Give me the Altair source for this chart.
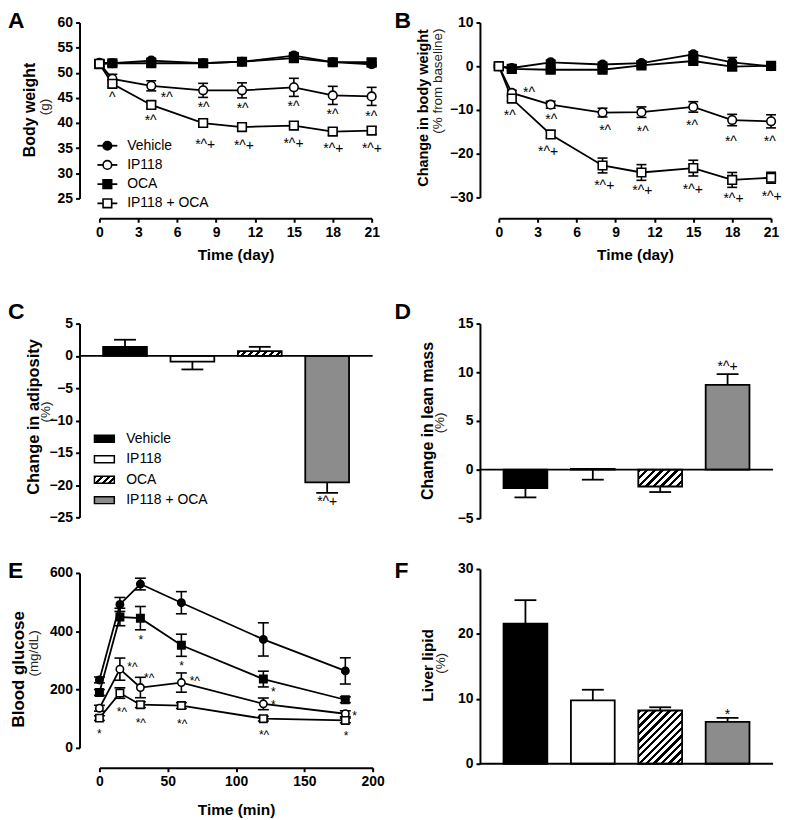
import altair as alt
import pandas as pd

FONT = "Liberation Sans"
GROUPS = ["Vehicle", "IP118", "OCA", "IP118 + OCA"]
MARK_FILL = ["black", "white", "black", "white"]
MARK_SHAPE = ["circle", "circle", "square", "square"]
BAR_FILL = ["black", "white", "white", "#8c8c8c"]

# ---------------- Panel A: body weight (g)
A_DAY = [0, 1, 4, 8, 11, 15, 18, 21]
A_VEHICLE = [52.0, 51.9, 52.4, 51.9, 52.2, 53.4, 52.1, 51.7]
A_VEHICLE_SEM = [0.6, 0.5, 0.5, 0.5, 0.5, 0.6, 0.5, 0.5]
A_IP118 = [51.9, 48.8, 47.4, 46.5, 46.5, 47.1, 45.5, 45.3]
A_IP118_SEM = [0.6, 0.9, 1.0, 1.4, 1.5, 1.8, 1.8, 1.8]
A_OCA = [51.7, 51.9, 51.9, 51.9, 52.2, 52.9, 52.1, 52.1]
A_OCA_SEM = [0.6, 0.5, 0.5, 0.5, 0.6, 0.6, 0.5, 0.6]
A_COMBO = [51.8, 47.8, 43.6, 40.0, 39.2, 39.5, 38.3, 38.5]
A_COMBO_SEM = [0.6, 0.6, 0.7, 0.7, 0.7, 0.7, 0.7, 0.7]
A_ANN_X = [1.0, 5.2, 3.95, 8.04, 11.05, 14.97, 17.98, 20.97, 8.16, 11.15, 14.97, 18.04, 21.02]
A_ANN_Y = [45.8, 45.8, 41.2, 43.8, 43.5, 44.0, 42.3, 42.0, 36.5, 36.2, 36.7, 35.6, 35.6]
A_ANN_TXT = ["^", "*^", "*^", "*^", "*^", "*^", "*^", "*^", "*^+", "*^+", "*^+", "*^+", "*^+"]

# ---------------- Panel B: change in body weight (%)
B_DAY = [0, 1, 4, 8, 11, 15, 18, 21]
B_VEHICLE = [0.0, -0.4, 0.9, 0.4, 0.7, 2.7, 0.9, 0.0]
B_VEHICLE_SEM = [0.3, 0.4, 0.5, 0.5, 0.5, 0.6, 1.1, 0.6]
B_IP118 = [0.0, -6.1, -8.8, -10.6, -10.5, -9.3, -12.3, -12.6]
B_IP118_SEM = [0.3, 0.6, 0.8, 1.0, 1.2, 1.2, 1.3, 1.5]
B_OCA = [0.0, -0.6, -0.8, -0.8, 0.2, 1.2, -0.1, 0.1]
B_OCA_SEM = [0.3, 0.4, 0.5, 0.5, 0.5, 0.6, 0.8, 0.6]
B_COMBO = [0.0, -7.4, -15.6, -22.7, -24.3, -23.3, -26.0, -25.5]
B_COMBO_SEM = [0.3, 0.6, 0.8, 1.7, 1.8, 1.8, 1.7, 1.25]
B_ANN_X = [2.33, 0.84, 4.04, 3.8, 8.2, 11.1, 14.9, 17.9, 20.9, 8.13, 11.07, 14.96, 18.1, 21.05]
B_ANN_Y = [-5.2, -10.4, -11.5, -18.6, -13.9, -14.1, -12.7, -16.4, -16.4, -26.4, -27.7, -27.5, -29.4, -29.0]
B_ANN_TXT = ["*^", "*^", "*^", "*^+", "*^", "*^", "*^", "*^", "*^", "*^+", "*^+", "*^+", "*^+", "*^+"]

# ---------------- Panel C: change in adiposity (%)
C_ADIPOSITY = [1.4, -0.9, 0.75, -19.6]
C_SEM = [1.1, -1.2, 0.65, -1.6]
C_ANN_Y = [-22.0]
C_ANN_TXT = ["*^+"]

# ---------------- Panel D: change in lean mass (%)
D_LEAN = [-1.9, 0.07, -1.73, 8.7]
D_SEM = [-0.95, -1.1, -0.57, 1.1]
D_ANN_Y = [10.9]
D_ANN_TXT = ["*^+"]

# ---------------- Panel E: blood glucose (mg/dL)
E_MIN = [0, 15, 30, 60, 120, 180]
E_VEHICLE = [233, 492, 562, 498, 372, 264]
E_VEHICLE_SEM = [10, 24, 20, 38, 57, 45]
E_IP118 = [136, 270, 207, 224, 151, 117]
E_IP118_SEM = [10, 38, 35, 33, 20, 10]
E_OCA = [190, 449, 445, 352, 236, 165]
E_OCA_SEM = [10, 30, 40, 38, 27, 10]
E_COMBO = [102, 188, 148, 145, 100, 94]
E_COMBO_SEM = [8, 18, 10, 10, 8, 8]
E_ANN_X = [0, 24.2, 16.5, 30.3, 36.4, 30.3, 60.1, 69.8, 60.6, 127.3, 127.3, 120.5, 186.7, 180.6]
E_ANN_Y = [62, 290, 136, 384, 253, 100, 295, 244, 97, 204, 161, 57, 123, 55]
E_ANN_TXT = ["*", "*^", "*^", "*", "*^", "*^", "*", "*^", "*^", "*", "*", "*^", "*", "*"]

# ---------------- Panel F: liver lipid (%)
F_LIPID = [21.6, 9.75, 8.2, 6.45]
F_SEM = [3.6, 1.65, 0.5, 0.6]
F_ANN_Y = [8.06]
F_ANN_TXT = ["*"]

WIDTH = 295
PAD = 0.35
BW = WIDTH / (4 - PAD + 2 * PAD) * (1 - PAD)


def hatch(w, h, period=7.5, frac=0.45):
    s = (w + h) / (w * w + h * h)
    n = max(1, int(round((w + h) / period)))
    stops = []
    for k in range(n):
        a, b, c = k / n, (k + frac) / n, (k + 1) / n
        stops += [{"offset": a, "color": "black"}, {"offset": b, "color": "black"},
                  {"offset": b, "color": "white"}, {"offset": c, "color": "white"}]
    return {"gradient": "linear", "x1": 0, "y1": 0, "x2": s * w, "y2": s * h, "stops": stops}


def axis_kw(values, title=None, tsize=15.5, tpad=9):
    kw = dict(values=values, grid=False, domainColor="black", domainWidth=2,
              tickColor="black", tickWidth=2, tickSize=4, labelFont=FONT,
              labelFontSize=14, labelFontWeight="bold", labelColor="black",
              labelPadding=3, labelFlush=False, labelOverlap=False)
    if title:
        kw.update(title=title, titleFont=FONT, titleFontSize=tsize,
                  titleFontWeight="bold", titleColor="black", titlePadding=tpad)
    else:
        kw.update(title=None)
    return kw


def vtext(txt, x, y, size, bold):
    return alt.Chart(pd.DataFrame({"s": [txt]})).mark_text(
        angle=270, align="center", baseline="middle", font=FONT, fontSize=size,
        fontWeight="bold" if bold else "normal",
        color="black" if bold else "#222222",
    ).encode(x=alt.value(x), y=alt.value(y), text="s:N")


def letter(txt, x, y):
    return alt.Chart(pd.DataFrame({"s": [txt]})).mark_text(
        align="left", baseline="top", font=FONT, fontSize=23, fontWeight="bold", color="black"
    ).encode(x=alt.value(x), y=alt.value(y), text="s:N")


def line_panel(t, means, sems, ann, xdom, xrng, xvals, xtitle, ydom, yrng, yvals, h,
               msize, cap, titles, let, ann_size=14, tpad=9, legend_rng=None):
    rows = []
    for g, m, s in zip(GROUPS, means, sems):
        for ti, mi, si in zip(t, m, s):
            rows.append({"group": g, "t": ti, "m": mi, "lo": mi - si, "hi": mi + si})
    df = pd.DataFrame(rows)
    xs = alt.Scale(domain=xdom, range=xrng, nice=False, zero=False)
    ys = alt.Scale(domain=ydom, range=yrng, nice=False, zero=False)
    XA = alt.Axis(**axis_kw(xvals, xtitle, tpad=tpad))
    YA = alt.Axis(**axis_kw(yvals))

    def X(f):
        return alt.X(f, type="quantitative", scale=xs, axis=XA)

    def Y(f):
        return alt.Y(f, type="quantitative", scale=ys, axis=YA)

    fill = alt.Fill("group:N", scale=alt.Scale(domain=GROUPS, range=MARK_FILL), legend=None)
    shape = alt.Shape("group:N", scale=alt.Scale(domain=GROUPS, range=MARK_SHAPE), legend=None)
    base = alt.Chart(df)
    lines = base.mark_line(color="black", strokeWidth=1.8).encode(
        x=X("t"), y=Y("m"), detail="group:N")
    err = base.mark_rule(color="black", strokeWidth=1.6).encode(x=X("t"), y=Y("lo"), y2="hi:Q")
    cap_lo = base.mark_tick(orient="horizontal", size=cap, thickness=1.6, color="black",
                            opacity=1).encode(x=X("t"), y=Y("lo"))
    cap_hi = base.mark_tick(orient="horizontal", size=cap, thickness=1.6, color="black",
                            opacity=1).encode(x=X("t"), y=Y("hi"))
    pts = base.mark_point(filled=True, opacity=1, stroke="black", strokeWidth=1.6,
                          size=msize).encode(x=X("t"), y=Y("m"), fill=fill, shape=shape)
    adf = pd.DataFrame({"x": ann[0], "y": ann[1], "txt": ann[2]})
    anns = alt.Chart(adf).mark_text(font=FONT, fontSize=ann_size, dy=4, color="black").encode(
        x=X("x"), y=Y("y"), text="txt:N")
    main = alt.layer(lines, err, cap_lo, cap_hi, pts, anns)
    layers = [main]
    if legend_rng:
        leg = pd.DataFrame({"group": GROUPS})
        LY = alt.Y("group:N", scale=alt.Scale(type="point", domain=GROUPS, range=legend_rng,
                                              padding=0), axis=None)
        lb = alt.Chart(leg)
        legend = alt.layer(
            lb.mark_rule(color="black", strokeWidth=1.8).encode(
                x=alt.value(18), x2=alt.value(38), y=LY),
            lb.mark_point(filled=True, opacity=1, stroke="black", strokeWidth=1.6,
                          size=msize).encode(x=alt.value(28), y=LY, fill=fill, shape=shape),
            lb.mark_text(align="left", baseline="middle", font=FONT, fontSize=14,
                         color="black").encode(x=alt.value(48), y=LY, text="group:N"),
        )
        layers.append(legend)
    for tt in titles:
        layers.append(vtext(*tt))
    layers.append(letter(*let))
    return alt.layer(*layers).resolve_scale(y="independent").properties(width=WIDTH, height=h)


def bar_panel(vals, sems, ydom, yrng, yvals, h, ann_y, ann_txt, titles, let, legend_rng=None):
    df = pd.DataFrame({"group": GROUPS, "v": vals,
                       "end": [v + s for v, s in zip(vals, sems)]})
    xs = alt.Scale(domain=GROUPS, paddingInner=PAD, paddingOuter=PAD)
    X = alt.X("group:N", scale=xs, axis=None)
    ys = alt.Scale(domain=ydom, range=yrng, nice=False, zero=False)
    YA = alt.Axis(**axis_kw(yvals))

    def Y(f):
        return alt.Y(f, type="quantitative", scale=ys, axis=YA, stack=None)

    base = alt.Chart(df)
    err = base.mark_rule(color="black", strokeWidth=1.8).encode(x=X, y=Y("v"), y2="end:Q")
    cap = base.mark_tick(orient="horizontal", size=22, thickness=1.8, color="black",
                         opacity=1).encode(x=X, y=Y("end"))
    fill = alt.Fill("group:N", scale=alt.Scale(domain=GROUPS, range=BAR_FILL), legend=None)
    bars = base.transform_filter(alt.datum.group != "OCA").mark_bar(
        stroke="black", strokeWidth=1.8, opacity=1).encode(x=X, y=Y("v"), fill=fill)
    i = GROUPS.index("OCA")
    hpx = abs(vals[i]) * abs(yrng[0] - yrng[1]) / (ydom[1] - ydom[0])
    oca = base.transform_filter(alt.datum.group == "OCA").mark_bar(
        stroke="black", strokeWidth=1.8, opacity=1, fill=hatch(BW, hpx)).encode(x=X, y=Y("v"))
    zero = alt.Chart(pd.DataFrame({"z": [0.0]})).mark_rule(color="black", strokeWidth=1.8).encode(
        x=alt.value(0), x2=alt.value(WIDTH), y=Y("z"))
    adf = pd.DataFrame({"group": ["IP118 + OCA"] * len(ann_y), "y": ann_y, "txt": ann_txt})
    anns = alt.Chart(adf).mark_text(font=FONT, fontSize=14, dy=4, color="black").encode(
        x=X, y=Y("y"), text="txt:N")
    main = alt.layer(err, cap, bars, oca, zero, anns)
    layers = [main]
    if legend_rng:
        leg = pd.DataFrame({"group": GROUPS})
        LY = alt.Y("group:N", scale=alt.Scale(type="point", domain=GROUPS, range=legend_rng,
                                              padding=0), axis=None)
        RECT = "M-1,-0.35L1,-0.35L1,0.35L-1,0.35Z"
        lb = alt.Chart(leg)
        legend = alt.layer(
            lb.transform_filter(alt.datum.group != "OCA").mark_point(
                shape=RECT, size=400, filled=True, opacity=1, stroke="black",
                strokeWidth=1.5).encode(x=alt.value(25), y=LY, fill=fill),
            lb.transform_filter(alt.datum.group == "OCA").mark_point(
                shape=RECT, size=400, filled=True, opacity=1, stroke="black",
                strokeWidth=1.5, fill=hatch(20, 7, period=6.5)).encode(x=alt.value(25), y=LY),
            lb.mark_text(align="left", baseline="middle", font=FONT, fontSize=14,
                         color="black").encode(x=alt.value(47), y=LY, text="group:N"),
        )
        layers.append(legend)
    for tt in titles:
        layers.append(vtext(*tt))
    layers.append(letter(*let))
    return alt.layer(*layers).resolve_scale(y="independent").properties(width=WIDTH, height=h)


A = line_panel(A_DAY, [A_VEHICLE, A_IP118, A_OCA, A_COMBO],
               [A_VEHICLE_SEM, A_IP118_SEM, A_OCA_SEM, A_COMBO_SEM],
               (A_ANN_X, A_ANN_Y, A_ANN_TXT), [0, 21], [20, 294], list(range(0, 22, 3)),
               "Time (day)", [25, 60], [177, 0], list(range(25, 61, 5)), 197, 75, 10,
               [("Body weight", -50, 88, 16, True), ("(g)", -35, 85, 13.5, False)],
               ("A", -72, -12), legend_rng=[124, 182])

B = line_panel(B_DAY, [B_VEHICLE, B_IP118, B_OCA, B_COMBO],
               [B_VEHICLE_SEM, B_IP118_SEM, B_OCA_SEM, B_COMBO_SEM],
               (B_ANN_X, B_ANN_Y, B_ANN_TXT), [0, 21], [19, 293], list(range(0, 22, 3)),
               "Time (day)", [-30, 10], [176, 0], [-30, -20, -10, 0, 10], 197, 75, 10,
               [("Change in body weight", -56, 86, 14.5, True),
                ("(% from baseline)", -42, 59, 13.5, False)],
               ("B", -86, -12))

C = bar_panel(C_ADIPOSITY, C_SEM, [-25, 5], [250, 55], list(range(-25, 6, 5)), 251,
              C_ANN_Y, C_ANN_TXT,
              [("Change in adiposity", -46, 149, 16.5, True), ("(%)", -34, 144, 13.5, False)],
              ("C", -72, 32), legend_rng=[171, 232.7])

D = bar_panel(D_LEAN, D_SEM, [-5, 15], [251, 55], [-5, 0, 5, 10, 15], 251,
              D_ANN_Y, D_ANN_TXT,
              [("Change in lean mass", -52, 153, 16, True), ("(%)", -40, 155, 13.5, False)],
              ("D", -86, 32))

E = line_panel(E_MIN, [E_VEHICLE, E_IP118, E_OCA, E_COMBO],
               [E_VEHICLE_SEM, E_IP118_SEM, E_OCA_SEM, E_COMBO_SEM],
               (E_ANN_X, E_ANN_Y, E_ANN_TXT), [0, 200], [20, 295], [0, 50, 100, 150, 200],
               "Time (min)", [0, 600], [180, 4], [0, 200, 400, 600], 200, 55, 11,
               [("Blood glucose", -61, 101, 17, True), ("(mg/dL)", -46, 85, 13.5, False)],
               ("E", -72, -9), ann_size=12, tpad=14)

F = bar_panel(F_LIPID, F_SEM, [0, 30], [196, 0], [0, 10, 20, 30], 200,
              F_ANN_Y, F_ANN_TXT,
              [("Liver lipid", -52, 97, 15.5, True), ("(%)", -39, 95, 13.5, False)],
              ("F", -86, -9))

chart = alt.concat(
    A, B, C, D, E, F, columns=2, spacing={"row": 51, "column": 108},
    bounds="flush", align="each",
).resolve_scale(fill="independent", shape="independent").properties(
    padding=0
).configure_view(stroke=None).configure_text(font=FONT)

chart.save("out.html", embed_options={"renderer": "svg", "actions": False})
